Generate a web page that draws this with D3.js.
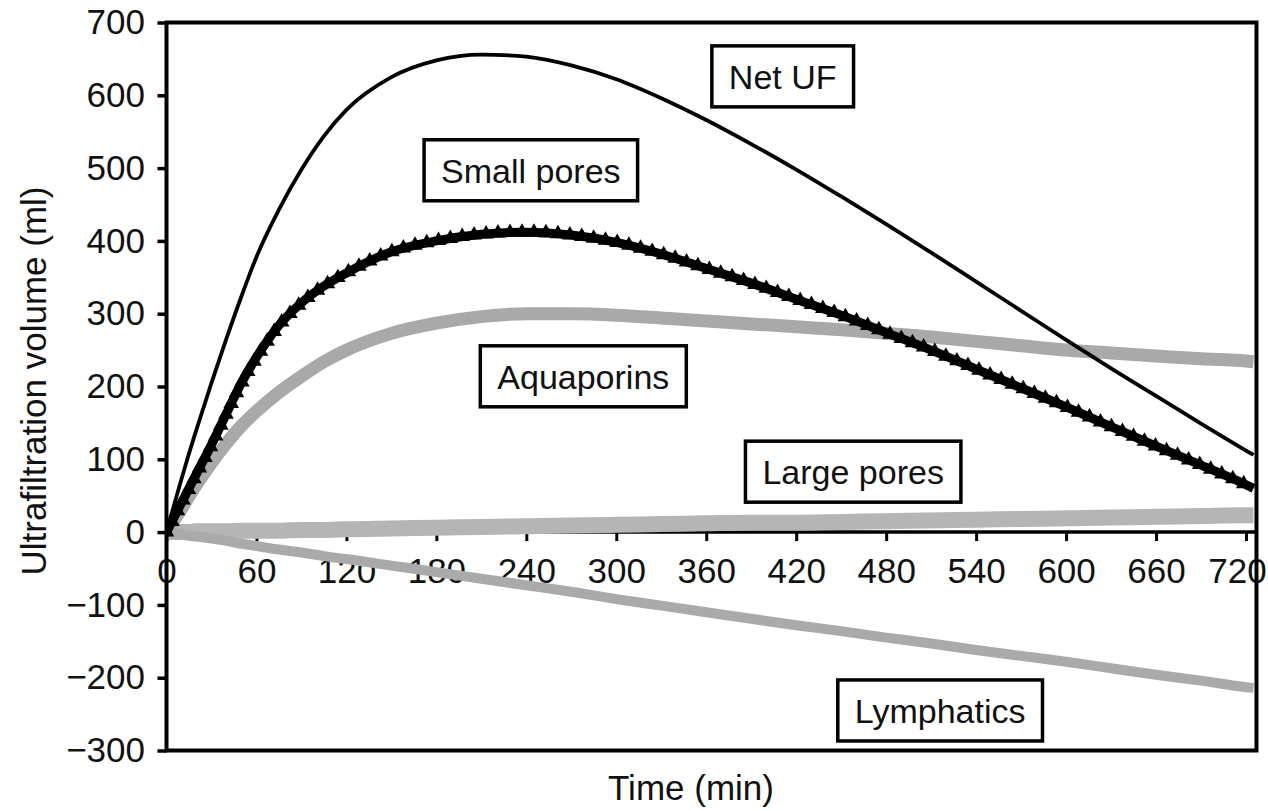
<!DOCTYPE html>
<html>
<head>
<meta charset="utf-8">
<script src="https://cdn.jsdelivr.net/npm/d3@7/dist/d3.min.js"></script>
<style>
  html, body { margin: 0; padding: 0; background: #fff; }
  svg { display: block; font-family: "Liberation Sans", Arial, sans-serif; }
</style>
</head>
<body>
<svg id="chart" width="1268" height="811"></svg>
<script>
// Time points (min) shared by all series
const timeMin = [0, 5, 10, 15, 20, 30, 40, 50, 60, 75, 90, 105, 120, 150, 180, 210, 240,
  270, 300, 330, 360, 390, 420, 450, 480, 510, 540, 570, 600, 630, 660, 690, 720, 725];

// Ultrafiltration volumes (ml)
const netUF = [0, 37, 73, 108, 141, 205, 266, 324, 378, 443, 498, 544, 580, 625, 648, 656, 653,
  641, 622, 596, 566, 533, 498, 461, 423, 384, 344, 304, 264, 225, 187, 149, 112, 106];
const smallPores = [0, 20, 40, 60, 80, 120, 163, 205, 240, 284, 315, 338, 356, 385, 400, 409, 412,
  408, 398, 382, 362, 342, 320, 298, 274, 250, 224, 198, 172, 145, 118, 92, 65, 60];
const aquaporins = [0, 16, 32, 49, 65, 95, 122, 146, 166, 192, 214, 234, 250, 273, 287, 296, 300,
  300, 298, 294, 290, 286, 282, 278, 273, 268, 262, 256, 250, 246, 242, 238, 235, 234];
const largePores = [0, 0, 0, 0, 1, 1, 1, 2, 2, 2, 3, 3, 4, 5, 6, 7, 8,
  9, 10, 11, 12, 13, 13, 14, 15, 16, 17, 18, 19, 20, 21, 22, 23, 23];
const lymphatics = [0, -2, -3, -5, -6, -9, -12, -16, -19, -24, -28, -33, -37, -46, -55, -64, -73,
  -82, -92, -101, -110, -119, -128, -136, -145, -153, -162, -170, -178, -187, -196, -204, -213, -214];

// Axis ticks
const xTicks = [0, 60, 120, 180, 240, 300, 360, 420, 480, 540, 600, 660, 720];
const yTicks = [-300, -200, -100, 0, 100, 200, 300, 400, 500, 600, 700];

// Boxed series names and where they sit (time, volume)
const labelNames = ["Net UF", "Small pores", "Aquaporins", "Large pores", "Lymphatics"];
const labelTime = [411, 243, 278, 458, 516];
const labelVol = [626, 497, 214, 83, -245];

const svg = d3.select("#chart");
const tEnd = 727;

const x = d3.scaleLinear().domain([0, 720]).range([166.5, 1246]);
const y = d3.scaleLinear().domain([-300, 700]).range([750.5, 22.5]);

const plotLeft = x(0), plotRight = x(tEnd), plotTop = y(700), plotBottom = y(-300);

svg.append("defs").append("clipPath").attr("id", "plotClip")
  .append("rect").attr("x", plotLeft).attr("y", plotTop)
  .attr("width", plotRight - plotLeft).attr("height", plotBottom - plotTop);

// Y axis
const yAxis = svg.append("g")
  .attr("transform", `translate(${plotLeft},0)`)
  .call(d3.axisLeft(y).tickValues(yTicks).tickSize(9).tickPadding(12.5).tickSizeOuter(0));
yAxis.select(".domain").remove();
yAxis.selectAll(".tick line").attr("stroke", "#000").attr("stroke-width", 3.5);
yAxis.selectAll(".tick text").attr("font-size", 35).attr("fill", "#111")
  .attr("font-family", "Liberation Sans, Arial, sans-serif");

// X axis along the zero line
const xAxis = svg.append("g")
  .attr("transform", `translate(0,${y(0)})`)
  .call(d3.axisBottom(x).tickValues(xTicks).tickSize(9).tickPadding(17).tickSizeOuter(0));
xAxis.select(".domain").attr("d", `M${plotLeft},0H${plotRight}`).attr("stroke", "#000").attr("stroke-width", 3.5);
xAxis.selectAll(".tick line").attr("stroke", "#000").attr("stroke-width", 3);
xAxis.selectAll(".tick text").attr("font-size", 35).attr("fill", "#111")
  .attr("font-family", "Liberation Sans, Arial, sans-serif");
// last label is nudged left so it stays on the page
xAxis.selectAll(".tick text").filter(d => d === 720).attr("dx", -9);

const plot = svg.append("g").attr("clip-path", "url(#plotClip)");

function lineFor(values) {
  return d3.line()
    .x((d, i) => x(timeMin[i]))
    .y(d => y(d))
    .curve(d3.curveMonotoneX)(values);
}

// Grey series
plot.append("path").attr("d", lineFor(largePores))
  .attr("fill", "none").attr("stroke", "#b5b5b5").attr("stroke-width", 16);
plot.append("path").attr("d", lineFor(lymphatics))
  .attr("fill", "none").attr("stroke", "#aaaaaa").attr("stroke-width", 10);
plot.append("path").attr("d", lineFor(aquaporins))
  .attr("fill", "none").attr("stroke", "#a9a9a9").attr("stroke-width", 13);

// Small pores: heavy black line decorated with triangle markers
const spPath = plot.append("path").attr("d", lineFor(smallPores))
  .attr("fill", "none").attr("stroke", "#000").attr("stroke-width", 9);
const spNode = spPath.node();
const spLen = spNode.getTotalLength();
const tri = d3.symbol().type(d3.symbolTriangle).size(105);
const markerSteps = d3.range(0, spLen, 12);
plot.append("g").selectAll("path")
  .data(markerSteps)
  .join("path")
  .attr("d", tri)
  .attr("fill", "#000")
  .attr("transform", l => {
    const p = spNode.getPointAtLength(l);
    return `translate(${p.x},${p.y})`;
  });

// Net UF
plot.append("path").attr("d", lineFor(netUF))
  .attr("fill", "none").attr("stroke", "#000").attr("stroke-width", 3.8);

// Frame
svg.append("rect").attr("x", plotLeft).attr("y", plotTop)
  .attr("width", plotRight - plotLeft).attr("height", plotBottom - plotTop)
  .attr("fill", "none").attr("stroke", "#000").attr("stroke-width", 4);

// Boxed series labels
const labels = svg.append("g");
labelNames.forEach((name, i) => {
  const g = labels.append("g")
    .attr("transform", `translate(${x(labelTime[i])},${y(labelVol[i])})`);
  const rect = g.append("rect");
  const txt = g.append("text")
    .attr("text-anchor", "middle")
    .attr("dy", "0.36em")
    .attr("font-size", 34)
    .attr("fill", "#111")
    .text(name);
  const w = txt.node().getComputedTextLength() + 34;
  const h = 61;
  rect.attr("x", -w / 2).attr("y", -h / 2).attr("width", w).attr("height", h)
    .attr("fill", "#fff").attr("stroke", "#000").attr("stroke-width", 3.5);
});

// Axis titles
svg.append("text")
  .attr("x", 691).attr("y", 800)
  .attr("text-anchor", "middle")
  .attr("font-size", 35).attr("fill", "#111")
  .text("Time (min)");

svg.append("text")
  .attr("transform", `translate(46,381) rotate(-90)`)
  .attr("text-anchor", "middle")
  .attr("font-size", 35).attr("fill", "#111")
  .text("Ultrafiltration volume (ml)");
</script>
</body>
</html>
